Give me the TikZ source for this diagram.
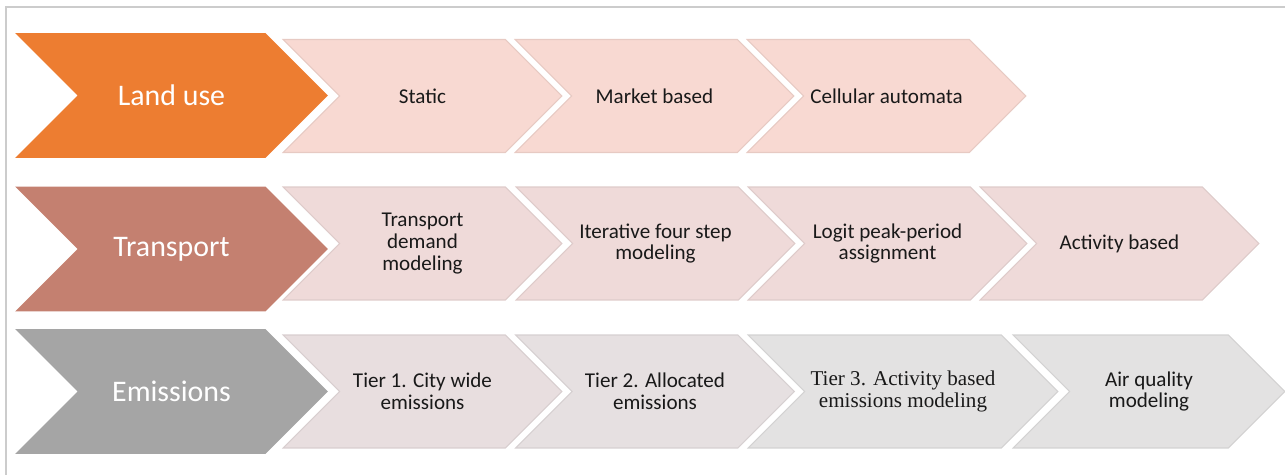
\documentclass[tikz,border=0pt]{standalone}
\usepackage{fontspec}
\setmainfont{Carlito}
\newfontfamily\tierfont{Liberation Serif}
\usetikzlibrary{shapes.symbols}

\definecolor{landuse}{HTML}{ED7D31}
\definecolor{transport}{HTML}{C48070}
\definecolor{emission}{HTML}{A5A5A5}
\definecolor{landlight}{HTML}{F8D9D2}
\definecolor{translight}{HTML}{EFDAD9}
\definecolor{emlight}{HTML}{E8DEDF}
\definecolor{emmid}{HTML}{E6E0E1}
\definecolor{graylight}{HTML}{E3E2E2}
\definecolor{framegray}{HTML}{CCCCCC}

\tikzset{
  chev/.style={signal, signal from=west, signal to=east, signal pointer angle=90, inner sep=0pt},
  mainchev/.style={chev, fill=#1, minimum width=6.26cm, minimum height=2.5cm,
    text=white, font=\fontsize{17}{20}\selectfont},
  subchev/.style={chev, fill=#1, draw=#1!93!black, line width=0.6pt,
    minimum width=5.58cm, minimum height=2.26cm, align=center,
    text=black!90, font=\fontsize{12}{12.3}\selectfont}
}

\begin{document}
\begin{tikzpicture}[x=0.02cm,y=-0.02cm]
    \useasboundingbox (0,0) rectangle (1285,475);
    \draw [framegray,line width=0.8pt] (6,7) rectangle (1300,490);% frame, open to the right and bottom
    % land use
    \node (LU)  [mainchev=landuse] at (171.5,95.5) {Land use};
    \node (LU1) [subchev=landlight] at (422.5,96) {Static};
    \node (LU2) [subchev=landlight] at (654.5,96) {Market based};
    \node (LU3) [subchev=landlight] at (886.5,96) {Cellular automata};
    % transport
    \node (TR)  [mainchev=transport] at (171.5,249) {Transport};
    \node (TR1) [subchev=translight] at (422.5,243.5) {Transport\\demand\\modeling};
    \node (TR2) [subchev=translight] at (655.5,243.5) {Iterative four step\\modeling};
    \node (TR3) [subchev=translight] at (887.5,243.5) {Logit peak-period\\assignment};
    \node (TR4) [subchev=translight] at (1119.5,243.5) {Activity based};
    % emissions
    \node (EM)  [mainchev=emission] at (171.5,391.5) {Emissions};
    \node (EM1) [subchev=emlight] at (422.5,391.5) {Tier 1. City wide\\emissions};
    \node (EM2) [subchev=emmid] at (655,391.5) {Tier 2. Allocated\\emissions};
    \node (EM3) [subchev=graylight,minimum width=6.2cm,font=\tierfont\fontsize{12}{12.3}\selectfont] at (903,391.5) {Tier 3. Activity based\\emissions modeling};
    \node (EM4) [subchev=graylight,minimum width=5.44cm] at (1149,391.5) {Air quality\\modeling};
\end{tikzpicture}
\end{document}
